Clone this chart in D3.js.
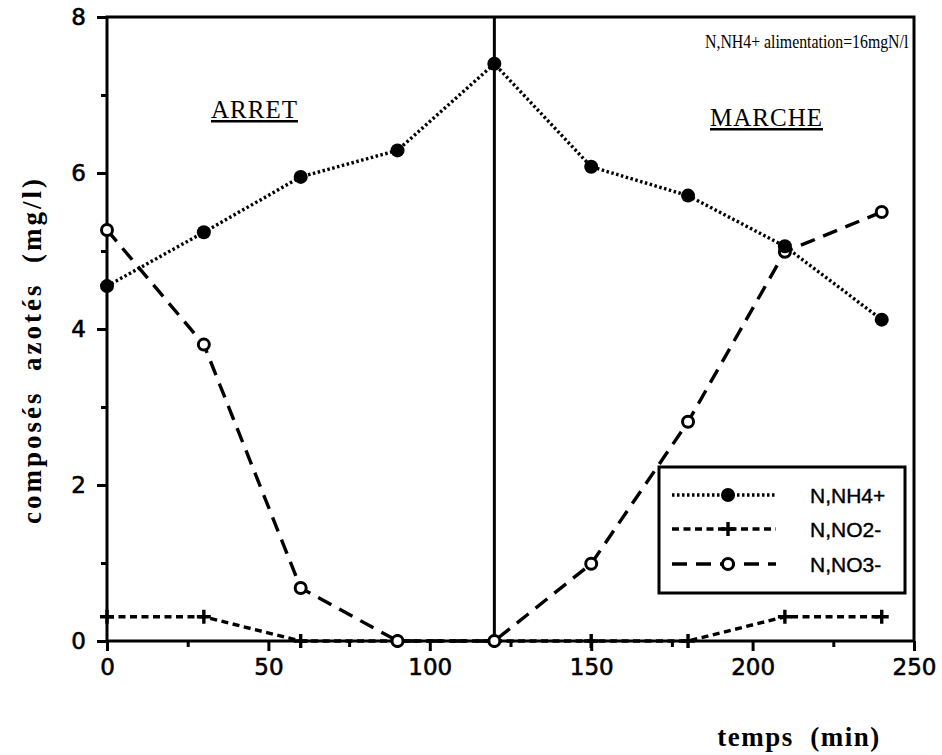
<!DOCTYPE html>
<html><head><meta charset="utf-8">
<script src="https://cdn.jsdelivr.net/npm/d3@7"></script>
<style>body{margin:0;background:#fff}svg{display:block}</style>
</head><body>
<svg id="c" width="942" height="755"></svg>
<script>
const times = [0, 30, 60, 90, 120, 150, 180, 210, 240];
const nh4 = [4.55, 5.24, 5.95, 6.29, 7.40, 6.08, 5.71, 5.06, 4.12];
const no2 = [0.31, 0.31, 0, 0, 0, 0, 0, 0.31, 0.31];
const no3 = [5.27, 3.80, 0.68, 0, 0, 0.99, 2.81, 4.99, 5.50];
const xTicks = [0, 50, 100, 150, 200, 250];
const xMinor = [25, 75, 125, 175, 225];
const yTicks = [0, 2, 4, 6, 8];
const yMinor = [1, 3, 5, 7];
const legendLabels = ["N,NH4+", "N,NO2-", "N,NO3-"];
const phaseX = 120;

const svg = d3.select("#c");
const x = d3.scaleLinear().domain([0, 250]).range([107, 914]);
const y = d3.scaleLinear().domain([0, 8]).range([641, 17]);

// frame
svg.append("rect").attr("x", x(0)).attr("y", y(8)).attr("width", x(250) - x(0)).attr("height", y(0) - y(8))
  .attr("fill", "none").attr("stroke", "#000").attr("stroke-width", 3);

// axes
const xAx = d3.axisBottom(x).tickValues(xTicks).tickSize(10).tickPadding(8).tickFormat(d3.format("d"));
svg.append("g").attr("transform", `translate(0,${y(0)})`).call(xAx);
const xMin = d3.axisBottom(x).tickValues(xMinor).tickSize(6).tickFormat("");
svg.append("g").attr("transform", `translate(0,${y(0)})`).call(xMin);
const yAx = d3.axisLeft(y).tickValues(yTicks).tickSize(10).tickPadding(11).tickFormat(d3.format("d"));
svg.append("g").attr("transform", `translate(${x(0)},0)`).call(yAx);
const yMin = d3.axisLeft(y).tickValues(yMinor).tickSize(6).tickFormat("");
svg.append("g").attr("transform", `translate(${x(0)},0)`).call(yMin);
svg.selectAll(".domain").remove();
svg.selectAll(".tick line").attr("stroke", "#000").attr("stroke-width", 3);
svg.selectAll(".tick text").attr("fill", "#000").attr("stroke", "#000").attr("stroke-width", 0.6)
  .style("font-family", "DejaVu Sans, sans-serif").style("font-size", "23px");

// phase line
svg.append("line").attr("x1", x(phaseX)).attr("x2", x(phaseX)).attr("y1", y(8)).attr("y2", y(0))
  .attr("stroke", "#000").attr("stroke-width", 3);

const line = d3.line().x((d, i) => x(times[i])).y(d => y(d));
const styles = [
  {data: nh4, dash: "2.5,2.5", w: 3.4},
  {data: no2, dash: "7,4.5", w: 3.4},
  {data: no3, dash: "15,9", w: 3.4}
];
styles.forEach(s => {
  svg.append("path").datum(s.data).attr("d", line).attr("fill", "none")
    .attr("stroke", "#000").attr("stroke-width", s.w).attr("stroke-dasharray", s.dash);
});

function plus(g, cx, cy) {
  g.append("path").attr("d", `M${cx-7},${cy}H${cx+7}M${cx},${cy-7}V${cy+7}`)
    .attr("stroke", "#000").attr("stroke-width", 3.4);
}
// markers
no2.forEach((v, i) => plus(svg, x(times[i]), y(v)));
no3.forEach((v, i) => svg.append("circle").attr("cx", x(times[i])).attr("cy", y(v)).attr("r", 5.5)
  .attr("fill", "#fff").attr("stroke", "#000").attr("stroke-width", 3));
nh4.forEach((v, i) => svg.append("circle").attr("cx", x(times[i])).attr("cy", y(v)).attr("r", 7)
  .attr("fill", "#000"));

// legend
const lg = svg.append("g");
lg.append("rect").attr("x", 659).attr("y", 467).attr("width", 246).attr("height", 126)
  .attr("fill", "#fff").attr("stroke", "#000").attr("stroke-width", 3);
const rows = [495, 529, 564];
styles.forEach((s, i) => {
  lg.append("line").attr("x1", 672).attr("x2", 776).attr("y1", rows[i]).attr("y2", rows[i])
    .attr("stroke", "#000").attr("stroke-width", s.w).attr("stroke-dasharray", s.dash);
  if (i === 0) lg.append("circle").attr("cx", 728).attr("cy", rows[i]).attr("r", 7).attr("fill", "#000");
  if (i === 1) plus(lg, 728, rows[i]);
  if (i === 2) lg.append("circle").attr("cx", 728).attr("cy", rows[i]).attr("r", 5.5).attr("fill", "#fff")
    .attr("stroke", "#000").attr("stroke-width", 3);
  lg.append("text").attr("x", 810).attr("y", rows[i] + 8)
    .attr("stroke", "#000").attr("stroke-width", 0.4)
    .style("font-family", "Liberation Sans, Arial, sans-serif").style("font-size", "21px")
    .text(legendLabels[i]);
});

// texts
const serif = "'Liberation Serif', 'Times New Roman', serif";
svg.append("text").attr("x", 211).attr("y", 118).style("font-family", serif).style("font-size", "25px")
  .style("letter-spacing", "1px").attr("text-decoration", "underline").text("ARRET");
svg.append("text").attr("x", 710).attr("y", 126).style("font-family", serif).style("font-size", "25px")
  .style("letter-spacing", "1px").attr("text-decoration", "underline").text("MARCHE");
svg.append("text").attr("transform", "translate(705,48) scale(0.88,1)").style("font-family", serif)
  .style("font-size", "18px").text("N,NH4+ alimentation=16mgN/l");
svg.append("text").attr("transform", "translate(41,350) rotate(-90)").attr("text-anchor", "middle")
  .style("font-family", serif).style("font-size", "27px").style("font-weight", "bold")
  .style("letter-spacing", "3px")
  .style("white-space", "pre").attr("xml:space", "preserve").text("composés  azotés  (mg/l)");
svg.append("text").attr("x", 799).attr("y", 746).attr("text-anchor", "middle")
  .style("font-family", serif).style("font-size", "27px").style("font-weight", "bold")
  .style("letter-spacing", "1.5px")
  .style("white-space", "pre").attr("xml:space", "preserve").text("temps  (min)");
</script>
</body></html>
